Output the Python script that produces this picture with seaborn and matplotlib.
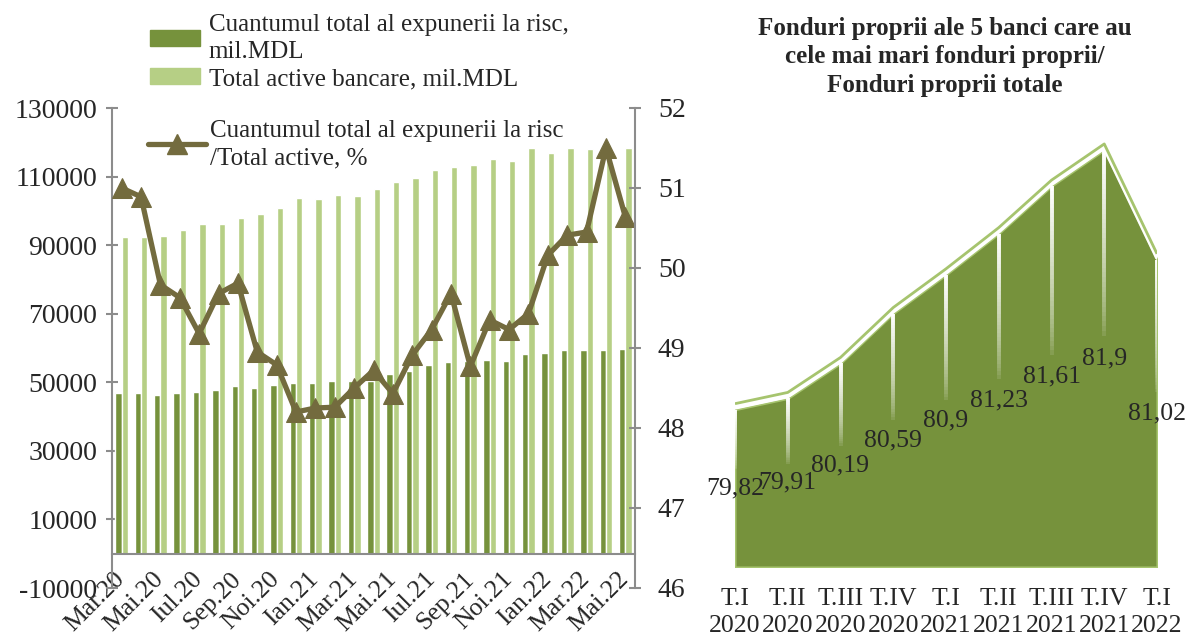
import numpy as np
import pandas as pd
import seaborn as sns
import matplotlib.pyplot as plt
from matplotlib.lines import Line2D
from matplotlib.patches import Patch
from matplotlib.collections import LineCollection
from matplotlib.transforms import offset_copy

# --- left chart data ---
months = ["Mar.20", "Apr.20", "Mai.20", "Iun.20", "Iul.20", "Aug.20", "Sep.20", "Oct.20",
          "Noi.20", "Dec.20", "Ian.21", "Feb.21", "Mar.21", "Apr.21", "Mai.21", "Iun.21",
          "Iul.21", "Aug.21", "Sep.21", "Oct.21", "Noi.21", "Dec.21", "Ian.22", "Feb.22",
          "Mar.22", "Apr.22", "Mai.22"]
exposure = [46960, 46750, 46170, 46750, 47150, 47730, 48800, 48400, 49100, 49870,
            49680, 50260, 50360, 50460, 52400, 53370, 55030, 55800, 56200, 56580,
            56290, 58240, 58530, 59400, 59400, 59500, 59700]
assets = [92250, 92300, 92750, 94500, 96050, 96250, 98000, 98970, 100800, 103700,
          103400, 104600, 104300, 106300, 108500, 109500, 111900, 112700, 113500, 115000,
          114600, 118200, 116900, 118200, 118000, 118200, 118300]
ratio = [51.0, 50.89, 49.79, 49.63, 49.18, 49.68, 49.81, 48.95, 48.79, 48.20,
         48.25, 48.26, 48.50, 48.72, 48.43, 48.91, 49.23, 49.68, 48.77, 49.35,
         49.23, 49.43, 50.16, 50.41, 50.45, 51.50, 50.64]
left_ticks = list(range(-10000, 130001, 20000))
right_ticks = list(range(46, 53))

lab_exp = "Cuantumul total al expunerii la risc,\nmil.MDL"
lab_act = "Total active bancare, mil.MDL"
lab_ratio = "Cuantumul total al expunerii la risc\n/Total active, %"

# --- right chart data ---
quarters = ["T.I\n2020", "T.II\n2020", "T.III\n2020", "T.IV\n2020", "T.I\n2021",
            "T.II\n2021", "T.III\n2021", "T.IV\n2021", "T.I\n2022"]
top5_share = [79.82, 79.91, 80.19, 80.59, 80.9, 81.23, 81.61, 81.9, 81.02]
title_right = "Fonduri proprii ale 5 banci care au\ncele mai mari fonduri proprii/\nFonduri proprii totale"

DARK = "#76923C"
LIGHT = "#B6CF85"
EDGE = "#A6C46E"
OLIVE = "#736B3E"
AXIS = "#8C8C8C"

sns.set_style("white")
plt.rcParams["font.family"] = ["Liberation Serif", "DejaVu Serif"]

fig = plt.figure(figsize=(11.87, 6.35), dpi=100)

# ---------------- left chart ----------------
ax = fig.add_axes([112 / 1187, 1 - 588 / 635, 523 / 1187, 480 / 635])
df = pd.DataFrame({
    "luna": months * 2,
    "valoare": exposure + assets,
    "serie": ["exp"] * len(months) + ["act"] * len(months),
})
sns.barplot(data=df, x="luna", y="valoare", hue="serie", palette=[DARK, LIGHT],
            width=0.66, saturation=1, legend=False, ax=ax)
ax.set_xlim(-0.5, len(months) - 0.5)
ax.set_ylim(-10000, 130000)
ax.set_yticks(left_ticks, [str(t) for t in left_ticks])
ax.set_xlabel("")
ax.set_ylabel("")

ax.set_xticks(list(np.arange(-0.5, len(months) - 1, 2)) + [len(months) - 0.5], [])
ax.set_xticks(range(0, len(months), 2), months[::2], minor=True)
ax.tick_params(axis="x", which="major", direction="out", length=8, color=AXIS, width=1.5)
ax.tick_params(axis="x", which="minor", length=0, pad=16, labelsize=18.5, labelrotation=45)
ax.tick_params(axis="y", direction="inout", length=9, color=AXIS, width=1.5,
               labelsize=20, pad=6)
ax.spines["bottom"].set_position(("data", 0))
for s in ["top", "right"]:
    ax.spines[s].set_visible(False)
for s in ["left", "bottom"]:
    ax.spines[s].set_color(AXIS)
    ax.spines[s].set_linewidth(1.5)

ax2 = ax.twinx()
sns.lineplot(x=np.arange(len(months)), y=ratio, ax=ax2, color=OLIVE, lw=3.8,
             marker="^", markersize=15, markeredgecolor=OLIVE)
ax2.set_ylim(46, 52)
ax2.set_yticks(right_ticks, [str(t) for t in right_ticks])
ax2.tick_params(axis="y", direction="inout", length=9, color=AXIS, width=1.5,
                labelsize=20, pad=12)
for s in ["top", "left", "bottom"]:
    ax2.spines[s].set_visible(False)
ax2.spines["right"].set_color(AXIS)
ax2.spines["right"].set_linewidth(1.5)

leg1 = fig.legend(handles=[Patch(color=DARK), Patch(color=LIGHT)], labels=[lab_exp, lab_act],
                  loc="upper left", bbox_to_anchor=(150 / 1187, 1 - 14 / 635), frameon=False,
                  fontsize=18, handlelength=2.0, handleheight=0.62, handletextpad=0.35,
                  labelspacing=0.2, borderpad=0, borderaxespad=0)
leg2 = fig.legend(handles=[Line2D([], [], color=OLIVE, lw=3.8, marker="^", markersize=15)],
                  labels=[lab_ratio], loc="upper left",
                  bbox_to_anchor=(148 / 1187, 1 - 120 / 635),
                  frameon=False, fontsize=18, handlelength=2.3, handletextpad=0.2,
                  borderpad=0, borderaxespad=0)
for leg in (leg1, leg2):
    for t in leg.get_texts():
        t.set_linespacing(1.3)

# ---------------- right chart ----------------
ax3 = fig.add_axes([735 / 1187, 1 - 567 / 635, 422 / 1187, 467 / 635])
x = np.arange(len(quarters))
ymin = 78.56
ax3.set_xlim(0, len(quarters) - 1)
ax3.set_ylim(ymin, 82.3)
ax3.fill_between(x, top5_share, ymin, color=DARK, edgecolor=EDGE, lw=1.5, zorder=1)
ax3.plot(x, top5_share, color="white", lw=2.8, zorder=3,
         transform=offset_copy(ax3.transData, fig=fig, y=2, units="dots"))
ax3.plot(x, top5_share, color=EDGE, lw=2.0, zorder=3, solid_capstyle="butt",
         transform=offset_copy(ax3.transData, fig=fig, y=6, units="dots"))

for xi, v in zip(x, top5_share):
    ymid = (v + ymin) / 2
    y_end = ymid + 0.14
    ys = np.linspace(v, y_end, 40)
    segs = [[(xi, ys[k]), (xi, ys[k + 1])] for k in range(len(ys) - 1)]
    alphas = np.linspace(1, 0, len(segs)) ** 0.6
    cols = [(1, 1, 1, a) for a in alphas]
    ax3.add_collection(LineCollection(segs, colors=cols, linewidths=2.8, zorder=2))
    ax3.text(xi, ymid, f"{v:g}".replace(".", ","), ha="center", va="center",
             fontsize=18.5, zorder=4)

ax3.set_xticks(x, quarters, linespacing=1.32)
ax3.set_yticks([])
ax3.tick_params(axis="x", length=0, pad=15, labelsize=18.5)
for s in ax3.spines.values():
    s.set_visible(False)

fig.text(945 / 1187, 1 - 57 / 635, title_right, ha="center", va="center",
         fontsize=18, fontweight="bold", linespacing=1.3)

# rotated month labels: anchor the right end at each category
plt.setp(ax.get_xticklabels(minor=True), ha="right", va="center", rotation_mode="anchor")

fig.savefig("out.png", dpi=100)
